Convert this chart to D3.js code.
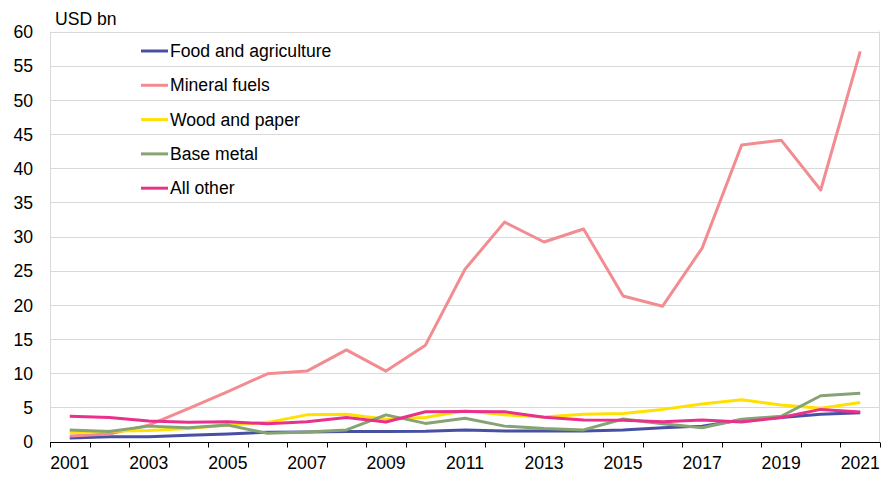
<!DOCTYPE html>
<html><head><meta charset="utf-8">
<script src="https://cdn.jsdelivr.net/npm/d3@7"></script>
<style>body{margin:0;background:#fff}svg{display:block}text{font-family:"Liberation Sans",Arial,sans-serif}</style>
</head><body><svg id="c" width="887" height="477"></svg>
<script>
const years = [2001,2002,2003,2004,2005,2006,2007,2008,2009,2010,2011,2012,2013,2014,2015,2016,2017,2018,2019,2020,2021];
const foodAgriculture = [0.5,0.7,0.7,0.9,1.1,1.35,1.4,1.45,1.45,1.5,1.7,1.55,1.55,1.55,1.7,2.0,2.25,3.15,3.5,4.0,4.2];
const mineralFuels = [0.8,1.1,2.4,4.8,7.3,9.9,10.3,13.4,10.3,14.1,25.2,32.1,29.2,31.1,21.3,19.8,28.3,43.4,44.1,36.8,57.1];
const woodPaper = [1.3,1.5,1.6,1.9,2.4,2.8,3.9,4.0,3.25,3.5,4.5,3.9,3.6,4.0,4.1,4.7,5.5,6.1,5.35,4.85,5.7];
const baseMetal = [1.7,1.45,2.25,2.0,2.4,1.2,1.4,1.7,3.9,2.65,3.4,2.25,1.9,1.7,3.3,2.6,2.0,3.25,3.7,6.7,7.05];
const allOther = [3.7,3.5,3.0,2.8,2.9,2.6,2.9,3.5,2.85,4.35,4.4,4.35,3.55,3.15,3.1,2.9,3.15,2.85,3.5,4.7,4.3];
const yTicks = [0,5,10,15,20,25,30,35,40,45,50,55,60];
const xLabels = [2001,2003,2005,2007,2009,2011,2013,2015,2017,2019,2021];
const seriesNames = ["Food and agriculture","Mineral fuels","Wood and paper","Base metal","All other"];
const seriesColors = ["#4750A3","#F38C90","#FFE000","#86A373","#E9318C"];
const seriesData = [foodAgriculture, mineralFuels, woodPaper, baseMetal, allOther];

const FS = "17.6px";
const svg = d3.select("#c");
const L=50, R=880, T=31.5, B=441.5;
const x = d3.scaleBand().domain(years).range([L,R]);
const y = d3.scaleLinear().domain([0,60]).range([B,T]);

// gridlines
svg.append("g").selectAll("line").data(yTicks.filter(d=>d>0)).join("line")
  .attr("x1",L).attr("x2",R).attr("y1",d=>Math.round(y(d))+0.5).attr("y2",d=>Math.round(y(d))+0.5)
  .attr("stroke","#D9D9D9").attr("stroke-width",1);
svg.append("line").attr("x1",L+0.5).attr("x2",L+0.5).attr("y1",T).attr("y2",B).attr("stroke","#D9D9D9");
svg.append("line").attr("x1",R-0.5).attr("x2",R-0.5).attr("y1",T).attr("y2",B).attr("stroke","#D9D9D9");

// y axis labels
const yAxis = d3.axisLeft(y).tickValues(yTicks).tickSize(0).tickPadding(0);
const gy = svg.append("g").attr("transform",`translate(${L-17},0)`).call(yAxis);
gy.select(".domain").remove();
gy.selectAll("text").attr("font-size",FS).attr("fill","#000").attr("font-family","'Liberation Sans',Arial,sans-serif").attr("dy","0.35em");

// x axis
const gx = svg.append("g").attr("transform",`translate(0,${Math.round(B)+0.5})`);
gx.append("line").attr("x1",L).attr("x2",R).attr("stroke","#000").attr("stroke-width",1);
const bounds = d3.range(years.length+1).map(i=>L+i*x.bandwidth());
gx.selectAll(".tk").data(bounds).join("line").attr("class","tk")
  .attr("x1",d=>Math.round(d)+0.5).attr("x2",d=>Math.round(d)+0.5).attr("y1",0).attr("y2",5).attr("stroke","#000");
gx.selectAll(".lb").data(xLabels).join("text").attr("class","lb")
  .attr("x",d=>x(d)+x.bandwidth()/2).attr("y",26.5).attr("text-anchor","middle")
  .attr("font-size",FS).attr("fill","#000").text(d=>d);

// lines
const line = d3.line().x((d,i)=>x(years[i])+x.bandwidth()/2).y(d=>y(d));
seriesData.forEach((s,k)=>{
  svg.append("path").datum(s).attr("d",line).attr("fill","none")
    .attr("stroke",seriesColors[k]).attr("stroke-width",3).attr("stroke-linejoin","round");
});

// unit label
svg.append("text").attr("x",55).attr("y",24.5).attr("font-size",FS).attr("fill","#000").text("USD bn");

// legend
const lg = svg.append("g");
seriesNames.forEach((n,k)=>{
  const yy = 51 + k*34.3;
  lg.append("line").attr("x1",141).attr("x2",168).attr("y1",yy).attr("y2",yy).attr("stroke",seriesColors[k]).attr("stroke-width",3);
  lg.append("text").attr("x",170).attr("y",yy).attr("dy","0.35em").attr("font-size",FS).attr("fill","#000").text(n);
});
</script></body></html>
